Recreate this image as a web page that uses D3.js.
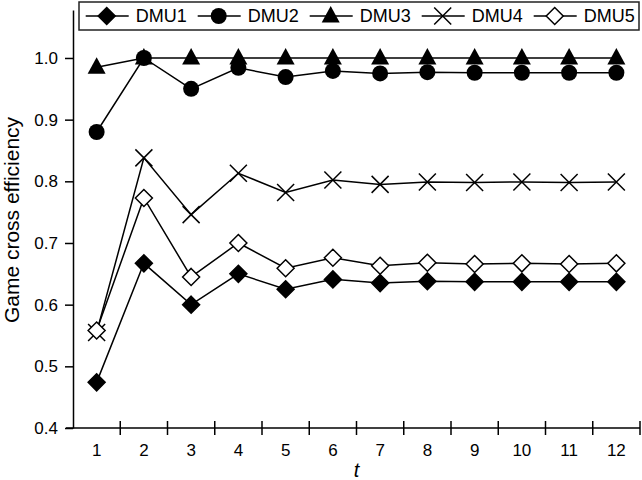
<!DOCTYPE html>
<html><head><meta charset="utf-8">
<script src="https://cdn.jsdelivr.net/npm/d3@7"></script>
<style>body{margin:0;background:#fff}svg{display:block}text{font-family:"Liberation Sans",Arial,sans-serif;fill:#000}</style>
</head><body><svg id="c" width="642" height="480"></svg>
<script>
const periods = [1,2,3,4,5,6,7,8,9,10,11,12];
const seriesNames = ["DMU1","DMU2","DMU3","DMU4","DMU5"];
const dmu1 = [0.474,0.667,0.600,0.650,0.625,0.641,0.635,0.638,0.637,0.637,0.637,0.637];
const dmu2 = [0.880,1.000,0.950,0.984,0.969,0.979,0.975,0.977,0.976,0.976,0.976,0.976];
const dmu3 = [0.985,1.000,1.000,1.000,1.000,1.000,1.000,1.000,1.000,1.000,1.000,1.000];
const dmu4 = [0.555,0.838,0.746,0.813,0.782,0.802,0.795,0.799,0.798,0.799,0.798,0.799];
const dmu5 = [0.558,0.773,0.645,0.700,0.659,0.676,0.663,0.668,0.666,0.667,0.666,0.667];
const yTicks = [0.4,0.5,0.6,0.7,0.8,0.9,1.0];
const seriesValues = [dmu1,dmu2,dmu3,dmu4,dmu5];
const markerTypes = ["diamondFilled","circle","triangle","cross","diamondOpen"];

const svg = d3.select("#c");
const x = d3.scaleBand().domain(periods).range([73,640]).paddingInner(0).paddingOuter(0);
const y = d3.scaleLinear().domain([0.4,1.0778]).range([428,10]);

// axes
const xAxis = svg.append("g").attr("transform","translate(0,428)");
xAxis.append("line").attr("x1",66).attr("x2",640).attr("y1",0).attr("y2",0).attr("stroke","#000").attr("stroke-width",1.5);
periods.forEach((p,i)=>{
  const bx = x(p) + x.bandwidth();
  xAxis.append("line").attr("x1",bx).attr("x2",bx).attr("y1",-7).attr("y2",7).attr("stroke","#000").attr("stroke-width",1.5);
  xAxis.append("text").attr("x",x(p)+x.bandwidth()/2).attr("y",28).attr("text-anchor","middle").attr("font-size",17).text(p);
});
svg.append("text").attr("x",(73+640)/2).attr("y",477).attr("text-anchor","middle").attr("font-size",20).attr("font-style","italic").text("t");

const yAxis = d3.axisLeft(y).tickValues(yTicks).tickFormat(d3.format(".1f")).tickSizeInner(8).tickSizeOuter(0).tickPadding(7);
const yg = svg.append("g").attr("transform","translate(73,0)").call(yAxis);
yg.select(".domain").attr("stroke-width",1.5);
yg.selectAll(".tick line").attr("stroke-width",1.5);
yg.selectAll(".tick text").attr("font-size",17).attr("font-family","Liberation Sans, Arial, sans-serif");
svg.append("text").attr("transform","translate(19,220) rotate(-90)").attr("text-anchor","middle").attr("font-size",21).text("Game cross efficiency");

// markers
function drawMarker(g,type,cx,cy){
  if(type==="diamondFilled"||type==="diamondOpen"){
    const s=8.5;
    g.append("path").attr("d",`M${cx},${cy-s}L${cx+s},${cy}L${cx},${cy+s}L${cx-s},${cy}Z`)
     .attr("fill",type==="diamondFilled"?"#000":"#fff").attr("stroke","#000").attr("stroke-width",1.5);
  } else if(type==="circle"){
    g.append("circle").attr("cx",cx).attr("cy",cy).attr("r",8).attr("fill","#000");
  } else if(type==="triangle"){
    g.append("path").attr("d",`M${cx},${cy-10}L${cx+9},${cy+6.5}L${cx-9},${cy+6.5}Z`).attr("fill","#000");
  } else if(type==="cross"){
    const s=8.5;
    g.append("path").attr("d",`M${cx-s},${cy-s}L${cx+s},${cy+s}M${cx+s},${cy-s}L${cx-s},${cy+s}`).attr("stroke","#000").attr("stroke-width",1.5).attr("fill","none");
  }
}

const line = d3.line().x((d,i)=>x(periods[i])+x.bandwidth()/2).y(d=>y(d));
seriesValues.forEach((vals,k)=>{
  const g = svg.append("g");
  g.append("path").attr("d",line(vals)).attr("fill","none").attr("stroke","#000").attr("stroke-width",1.5);
  vals.forEach((v,i)=>drawMarker(g,markerTypes[k],x(periods[i])+x.bandwidth()/2,y(v)));
});

// legend
const lg = svg.append("g");
lg.append("rect").attr("x",79).attr("y",2).attr("width",560).attr("height",28).attr("fill","#fff").attr("stroke","#222").attr("stroke-width",1.5);
seriesNames.forEach((n,k)=>{
  const mx = 106.7 + k*112;
  lg.append("line").attr("x1",mx-21).attr("x2",mx+22).attr("y1",16).attr("y2",16).attr("stroke","#000").attr("stroke-width",1.5);
  drawMarker(lg,markerTypes[k],mx,16);
  lg.append("text").attr("x",mx+29).attr("y",16).attr("dy","0.35em").attr("font-size",18).text(n);
});
</script></body></html>
